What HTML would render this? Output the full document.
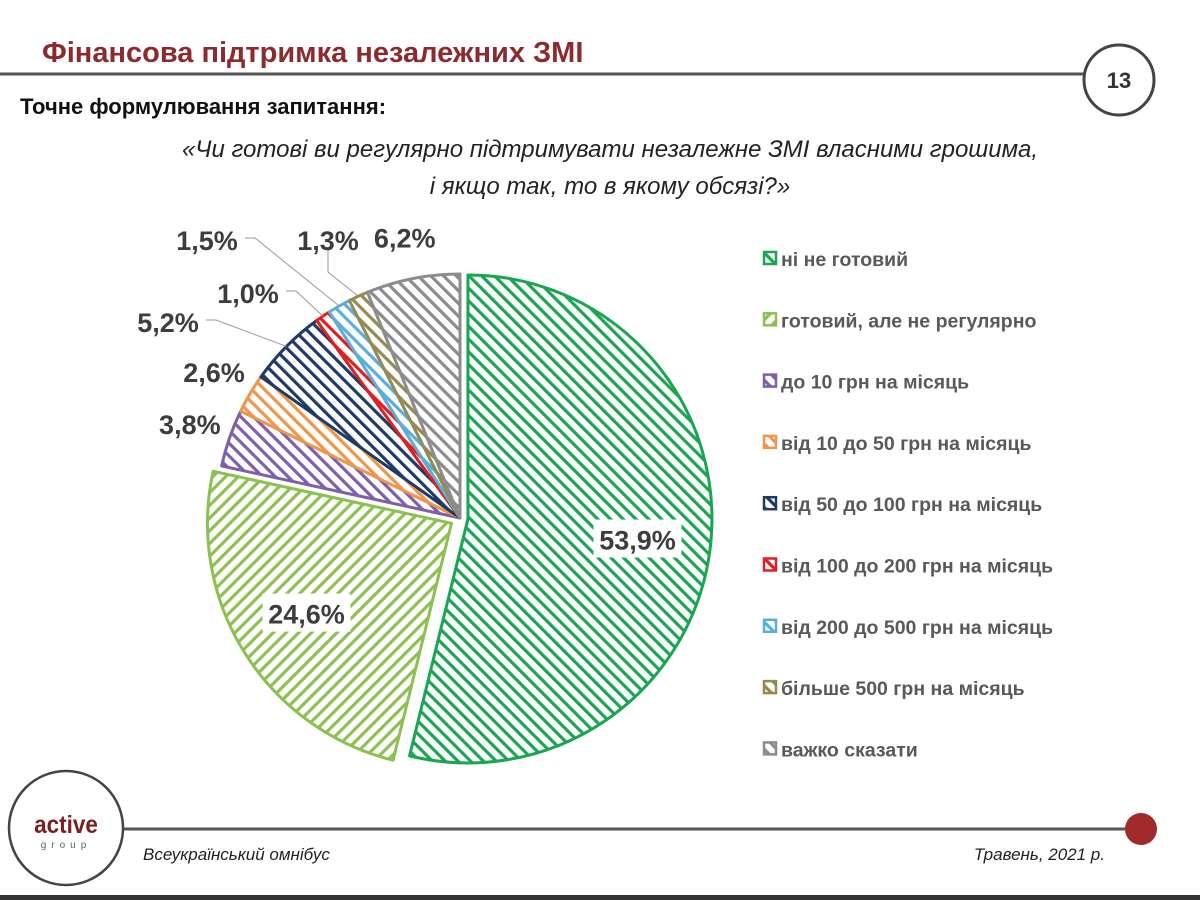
<!DOCTYPE html>
<html><head><meta charset="utf-8"><style>
body{margin:0;background:#fff;width:1200px;height:900px;overflow:hidden;font-family:"Liberation Sans","DejaVu Sans",sans-serif}
svg{display:block}
</style></head><body>
<svg id="chart" width="1200" height="900" viewBox="0 0 1200 900" xmlns="http://www.w3.org/2000/svg">
<defs id="defs"></defs>
<g>
<text x="42" y="62" font-size="29" font-weight="bold" fill="#8b2a2f">Фінансова підтримка незалежних ЗМІ</text>
<line x1="0" y1="74" x2="1084" y2="74" stroke="#555" stroke-width="3"/>
<circle cx="1119" cy="80" r="35" fill="#fff" stroke="#444" stroke-width="3"/>
<text x="1119" y="88" font-size="22" font-weight="bold" fill="#333" text-anchor="middle">13</text>
<text x="20" y="114" font-size="22" font-weight="bold" fill="#111">Точне формулювання запитання:</text>
<text x="610" y="157" font-size="24" font-style="italic" fill="#222" text-anchor="middle">«Чи готові ви регулярно підтримувати незалежне ЗМІ власними грошима,</text>
<text x="610" y="194" font-size="24" font-style="italic" fill="#222" text-anchor="middle">і якщо так, то в якому обсязі?»</text>
</g>
<g id="pie"></g>
<g id="labels"></g>
<g id="legend"></g>
<g>
<line x1="122" y1="829" x2="1132" y2="829" stroke="#555" stroke-width="3"/>
<circle cx="66" cy="828" r="57" fill="#fff" stroke="#444" stroke-width="2.5"/>
<text x="66" y="833" font-size="25" font-weight="bold" fill="#7a1f1f" text-anchor="middle" transform="translate(66,0) scale(0.9,1) translate(-66,0)">active</text>
<text x="66" y="848" font-size="10" fill="#666" text-anchor="middle" letter-spacing="5">group</text>
<circle cx="1141" cy="829" r="16" fill="#a12a2a"/>
<text x="143" y="860" font-size="17" font-style="italic" fill="#222">Всеукраїнський омнібус</text>
<text x="1105" y="860" font-size="17" font-style="italic" fill="#222" text-anchor="end">Травень, 2021 р.</text>
<rect x="0" y="895" width="1200" height="5" fill="#333"/>
</g>
</svg>
<script>
const categories = ["ні не готовий","готовий, але не регулярно","до 10 грн на місяць","від 10 до 50 грн на місяць","від 50 до 100  грн на місяць","від 100 до 200 грн на місяць","від 200 до 500 грн на місяць","більше 500 грн на місяць","важко сказати"];
const values = [53.9,24.6,3.8,2.6,5.2,1.0,1.5,1.3,6.2];
const valueLabels = ["53,9%","24,6%","3,8%","2,6%","5,2%","1,0%","1,5%","1,3%","6,2%"];
const colors = ["#1aa552","#8cc152","#7e5fa8","#f0964a","#1f3a64","#e02020","#5aaedc","#948a54","#8c8c8c"];
const explode = [8,10,0,0,0,0,0,0,0];

const NS="http://www.w3.org/2000/svg";
const cx=460, cy=518, R=244;
const defs=document.getElementById('defs');
const pie=document.getElementById('pie');
const labels=document.getElementById('labels');
const legend=document.getElementById('legend');
function mk(t,a){const e=document.createElementNS(NS,t);for(const k in a)e.setAttribute(k,a[k]);return e;}
colors.forEach((c,i)=>{
  const p=mk('pattern',{id:'h'+i,patternUnits:'userSpaceOnUse',width:9,height:9,patternTransform:'rotate('+(i===1?45:-45)+')'});
  p.appendChild(mk('rect',{x:0,y:0,width:9,height:9,fill:'#fff'}));
  p.appendChild(mk('rect',{x:0,y:0,width:3.2,height:9,fill:c}));
  defs.appendChild(p);
});
const total=values.reduce((a,b)=>a+b,0);
function pt(a,r,ox,oy){return [ox+r*Math.sin(a), oy-r*Math.cos(a)];}
let a0=0;
values.forEach((v,i)=>{
  const a1=a0+v/total*2*Math.PI;
  const mid=(a0+a1)/2;
  const ox=cx+explode[i]*Math.sin(mid), oy=cy-explode[i]*Math.cos(mid);
  const s=pt(a0,R,ox,oy), e=pt(a1,R,ox,oy);
  const large=(a1-a0)>Math.PI?1:0;
  const path=mk('path',{d:`M${ox},${oy} L${s[0]},${s[1]} A${R},${R} 0 ${large} 1 ${e[0]},${e[1]} Z`,fill:`url(#h${i})`,stroke:colors[i],'stroke-width':3,'stroke-linejoin':'round'});
  
  
  pie.appendChild(path);
  let lx,ly,anchor='middle';
  if(i<2){
    const p=pt(mid,R*0.7,ox,oy);lx=p[0];ly=p[1];
    const w=valueLabels[i].length*16+8;
    const bg=mk('rect',{x:lx-w/2,y:ly-20,width:w,height:38,fill:'#fff'});
    
    
    labels.appendChild(bg);
  } else {
    const p=pt(mid,R+42,cx,cy);lx=p[0];ly=p[1];
  }
  const manual={5:[248,293],6:[207,240],7:[328,240],4:[168,322]};
  if(manual[i]){
    lx=manual[i][0];ly=manual[i][1];
    const ep=pt(mid,R,cx,cy);
    const ln=mk('polyline',{points:`${lx+38},${ly-2} ${lx+48},${ly-2} ${ep[0]},${ep[1]}`,fill:'none',stroke:'#999','stroke-width':1});
    if(i===7) ln.setAttribute('points',`${lx},${ly+10} ${lx},${ly+32} ${ep[0]},${ep[1]}`);
    
    
    labels.appendChild(ln);
  }
  const t=mk('text',{x:lx,y:ly+10,'font-size':27,'font-weight':'bold',fill:'#3d3d3d','text-anchor':anchor});
  t.textContent=valueLabels[i];
  
  
  labels.appendChild(t);
  a0=a1;
});
categories.forEach((c,i)=>{
  const y=260+i*61.3;
  const g=mk('g',{});
  
  
  g.appendChild(mk('rect',{x:764,y:y-8,width:12,height:12,fill:`url(#h${i})`,stroke:colors[i],'stroke-width':2.5}));
  const t=mk('text',{x:781,y:y+6,'font-size':19.5,'font-weight':'bold',fill:'#595959'});
  t.textContent=c;
  g.appendChild(t);
  legend.appendChild(g);
});
</script>
</body></html>
